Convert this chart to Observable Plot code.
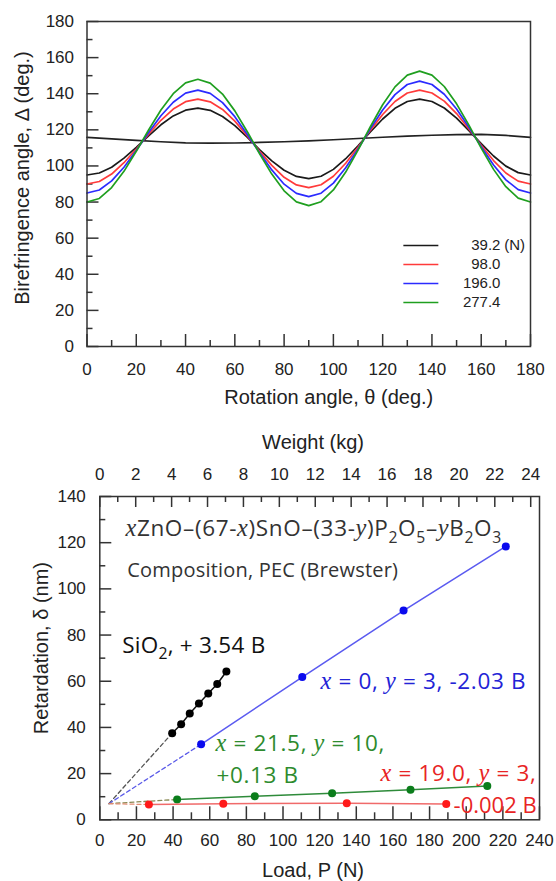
<!DOCTYPE html>
<html><head><meta charset="utf-8">
<script src="https://cdn.jsdelivr.net/npm/d3@7"></script>
<script src="https://cdn.jsdelivr.net/npm/@observablehq/plot@0.6"></script>
<style>
body{margin:0;background:#fff;}
#fig{width:556px;}
#fig svg{display:block;}
</style></head><body><div id="fig"></div>
<script>
// ---------- Top chart: birefringence angle vs rotation angle ----------
const theta = [0,5,10,15,20,25,30,35,40,45,50,55,60,65,70,75,80,85,90,95,100,105,110,115,120,125,130,135,140,145,150,155,160,165,170,175,180];
const load39 = [95,96.1,99.3,104.3,110.3,116.7,122.8,127.7,130.9,132,130.8,127.4,122.3,115.9,109.1,102.8,97.6,94.2,93,94.3,98.1,104,111.2,118.8,126,131.9,135.7,137,135.7,132.1,126.5,119.6,112.4,105.5,99.9,96.3,95];
const load98 = [90,91.4,95.5,101.8,109.4,117.6,125.3,131.5,135.6,137,135.5,131.3,124.8,116.8,108.2,100.3,93.7,89.5,88,89.6,94.3,101.5,110.3,119.7,128.5,135.7,140.4,142,140.4,135.9,129,120.5,111.5,103,96.1,91.6,90];
const load196 = [85,86.7,91.7,99.3,108.5,118.5,127.8,135.3,140.3,142,140.2,135.1,127.3,117.6,107.4,97.8,89.9,84.8,83,84.9,90.5,99,109.4,120.6,131,139.5,145.1,147,145.1,139.7,131.5,121.4,110.6,100.5,92.3,86.9,85];
const load277 = [80,82,88,97,108.1,119.9,131,140,146,148,145.9,139.8,130.5,119.1,106.9,95.5,86.2,80.1,78,80.2,86.7,96.6,108.8,121.7,133.9,143.8,150.3,152.5,150.3,144,134.4,122.6,109.9,98.1,88.5,82.2,80];
const thetaFlat = [0,10,20,30,40,50,60,70,80,90,100,110,120,130,140,150,160,170,180];
const flatRef = [115.8,115,114.2,113.4,112.8,112.6,112.7,113,113.4,113.9,114.5,115.2,115.9,116.5,117,117.4,117.5,116.9,115.8];
const loadLabels = ["39.2","98.0","196.0","277.4"];
const loadUnit = "(N)";
const thetaTicks = [0,20,40,60,80,100,120,140,160,180];
const deltaTicks = [0,20,40,60,80,100,120,140,160,180];

// ---------- Bottom chart: retardation vs load ----------
const sio2Load = [39.5,44.4,49.1,54.1,59.2,64.1,69.1];
const sio2Ret  = [37.5,41.4,46.0,50.4,54.7,58.8,64.2];
const x0Load   = [55.3,110.5,165.8,221.6];
const x0Ret    = [32.7,61.8,90.6,118.4];
const x215Load = [42.2,84.6,126.8,169.6,211.5];
const x215Ret  = [8.8,10.2,11.5,13.0,14.6];
const x19Load  = [26.8,67.4,134.8,189.1];
const x19Ret   = [6.6,7.0,7.2,6.8];
const extrapPoint = [5,7];
const loadTicks = [0,20,40,60,80,100,120,140,160,180,200,220,240];
const weightTicks = [0,2,4,6,8,10,12,14,16,18,20,22,24];
const retTicks = [0,20,40,60,80,100,120,140];
const G = 9.8; // N per kg

const FONT = "'Liberation Sans', Arial, sans-serif";
const ANN = "'Open Sans', Lato, sans-serif";
const AX = "#333";
const TICKFS = 17, TITLEFS = 20;

// ===== Top chart =====
const T = {w:556, h:410, ml:86.5, mr:26, mt:21, mb:64};
const TW = T.w - T.ml - T.mr, TH = T.h - T.mt - T.mb;
const topColors = ["#1a1a1a","#ff3a3a","#2b2bff","#1f9f1f"];
const topSeries = [load39, load98, load196, load277];
const minorOf = a => a.slice(0,-1).map((v,i)=> (v + a[i+1]) / 2);

const topMarks = [
  Plot.tickX(thetaTicks, {x: d=>d, insetTop: TH-12, stroke: AX, strokeWidth: 1.5}),
  Plot.tickX(minorOf(thetaTicks), {x: d=>d, insetTop: TH-6, stroke: AX, strokeWidth: 1.5}),
  Plot.tickY(deltaTicks, {y: d=>d, insetRight: TW-12, stroke: AX, strokeWidth: 1.5}),
  Plot.tickY(minorOf(deltaTicks), {y: d=>d, insetRight: TW-6, stroke: AX, strokeWidth: 1.5}),
  Plot.axisX({ticks: thetaTicks, tickSize: 0, tickPadding: 16, label: null, fontSize: TICKFS}),
  Plot.axisY({ticks: deltaTicks, tickSize: 0, tickPadding: 13, label: null, fontSize: TICKFS}),
  Plot.line(thetaFlat.map((t,i)=>({t, v: flatRef[i]})), {x:"t", y:"v", stroke:"#222", strokeWidth:1.7}),
];
topSeries.forEach((vals, k) => {
  topMarks.push(Plot.line(theta.map((t,i)=>({t, v: vals[i]})), {x:"t", y:"v", stroke: topColors[k], strokeWidth: 1.7}));
});
// legend
const legTop = 55.9, legStep = 10.5;
loadLabels.forEach((lab, k) => {
  const yy = legTop - k*legStep;
  topMarks.push(Plot.link([lab], {x1: 128.4, x2: 142.6, y1: yy, y2: yy, stroke: topColors[k], strokeWidth: 1.6}));
  topMarks.push(Plot.text([lab], {x: 167.8, y: yy, text: d=>d, textAnchor: "end", fontSize: 15, fill: "#222"}));
});
topMarks.push(Plot.text([loadUnit], {x: 169.3, y: legTop, text: d=>d, textAnchor: "start", fontSize: 15, fill: "#222"}));
topMarks.push(Plot.frame({stroke: AX, strokeWidth: 1.5}));
topMarks.push(Plot.text(["Rotation angle, θ (deg.)"], {frameAnchor: "bottom", dx: 20, dy: 51, lineAnchor: "middle", textAnchor: "middle", text: d=>d, fontSize: TITLEFS, fill: "#222"}));
topMarks.push(Plot.text(["Birefringence angle, Δ (deg.)"], {frameAnchor: "left", dx: -64.5, dy: -6, rotate: -90, lineAnchor: "middle", textAnchor: "middle", text: d=>d, fontSize: TITLEFS, fill: "#222"}));

const topSvg = Plot.plot({
  width: T.w, height: T.h,
  marginLeft: T.ml, marginRight: T.mr, marginTop: T.mt, marginBottom: T.mb,
  x: {domain: [0,180]}, y: {domain: [0,180]},
  style: {fontFamily: FONT, color: "#222", background: "#fff", overflow: "visible"},
  marks: topMarks
});

// ===== Bottom chart =====
const B = {w:556, h:471, ml:99.3, mr:17, mt:86, mb:61.7};
const BW = B.w - B.ml - B.mr, BH = B.h - B.mt - B.mb;
const pts = (xs, ys) => xs.map((x,i)=>({x, y: ys[i]}));
const ext = {x: extrapPoint[0], y: extrapPoint[1]};
const series = [
  {p: pts(sio2Load, sio2Ret), dot: "#000", line: "#111", dash: "#555"},
  {p: pts(x0Load, x0Ret), dot: "#0a0aee", line: "#5a5af0", dash: "#5a5ae8"},
  {p: pts(x215Load, x215Ret), dot: "#0b7d1b", line: "#2e8b3a", dash: "#8a8a55"},
  {p: pts(x19Load, x19Ret), dot: "#ff1a1a", line: "#f06a6a", dash: "#e08a70"},
];
const kgMinor = minorOf(weightTicks);
const botMarks = [
  Plot.tickX(loadTicks, {x: d=>d, insetTop: BH-13, stroke: AX, strokeWidth: 1.5}),
  Plot.tickX(minorOf(loadTicks), {x: d=>d, insetTop: BH-7, stroke: AX, strokeWidth: 1.5}),
  Plot.tickX(weightTicks, {x: d=>d*G, insetBottom: BH-11, stroke: AX, strokeWidth: 1.5}),
  Plot.tickX(kgMinor, {x: d=>d*G, insetBottom: BH-6, stroke: AX, strokeWidth: 1.5}),
  Plot.tickY(retTicks, {y: d=>d, insetRight: BW-12, stroke: AX, strokeWidth: 1.5}),
  Plot.tickY(minorOf(retTicks), {y: d=>d, insetRight: BW-6, stroke: AX, strokeWidth: 1.5}),
  Plot.axisX({anchor: "bottom", ticks: loadTicks, tickSize: 0, tickPadding: 14, label: null, fontSize: TICKFS}),
  Plot.axisX({anchor: "top", ticks: weightTicks.map(k=>k*G), tickFormat: d => String(Math.round(d/G)), tickSize: 0, tickPadding: 17, label: null, fontSize: TICKFS}),
  Plot.axisY({ticks: retTicks, tickSize: 0, tickPadding: 14, label: null, fontSize: TICKFS}),
];
series.forEach(s => {
  botMarks.push(Plot.line([ext, s.p[0]], {x:"x", y:"y", stroke: s.dash, strokeWidth: 1.3, strokeDasharray: "4,3"}));
  botMarks.push(Plot.line(s.p, {x:"x", y:"y", stroke: s.line, strokeWidth: 1.5}));
  botMarks.push(Plot.dot(s.p, {x:"x", y:"y", r: 4, fill: s.dot}));
});
botMarks.push(Plot.frame({stroke: AX, strokeWidth: 1.5}));
// annotations
botMarks.push(
  Plot.text(["xZnO–(67-x)SnO–(33-y)P2O5–yB2O3"], {x: 14, y: 125.9, text: d=>d, textAnchor: "start", fontSize: 22.5, fontFamily: ANN, fill: "#333"}),
  Plot.text(["Composition, PEC (Brewster)"], {x: 15, y: 108, text: d=>d, textAnchor: "start", fontSize: 20, fontFamily: ANN, fill: "#333"}),
  Plot.text(["SiO2, + 3.54 B"], {x: 12.2, y: 75.3, text: d=>d, textAnchor: "start", fontSize: 22.5, fontFamily: ANN, fill: "#111"}),
  Plot.text(["x = 0, y = 3, -2.03 B"], {x: 120.5, y: 59.6, text: d=>d, textAnchor: "start", fontSize: 22.5, fontFamily: ANN, fill: "#2323d6"}),
  Plot.text(["x = 21.5, y = 10,"], {x: 63.2, y: 32.8, text: d=>d, textAnchor: "start", fontSize: 22.5, fontFamily: ANN, fill: "#2e8b2e"}),
  Plot.text(["+0.13 B"], {x: 63.7, y: 19.2, text: d=>d, textAnchor: "start", fontSize: 22.5, fontFamily: ANN, fill: "#2e8b2e"}),
  Plot.text(["x = 19.0, y = 3,"], {x: 153.2, y: 19.8, text: d=>d, textAnchor: "start", fontSize: 22.5, fontFamily: ANN, fill: "#e82424"}),
  Plot.text(["-0.002 B"], {x: 193.1, y: 6.2, text: d=>d, textAnchor: "start", fontSize: 22, fontFamily: ANN, fill: "#e82424"}),
  Plot.text(["Weight (kg)"], {frameAnchor: "top", dx: -6.6, dy: -54, lineAnchor: "middle", textAnchor: "middle", text: d=>d, fontSize: TITLEFS, fill: "#222"}),
  Plot.text(["Load, P (N)"], {frameAnchor: "bottom", dx: -6.6, dy: 51, lineAnchor: "middle", textAnchor: "middle", text: d=>d, fontSize: TITLEFS, fill: "#222"}),
  Plot.text(["Retardation, δ (nm)"], {frameAnchor: "left", dx: -58.6, dy: -10, rotate: -90, lineAnchor: "middle", textAnchor: "middle", text: d=>d, fontSize: TITLEFS, fill: "#222"})
);

const botSvg = Plot.plot({
  width: B.w, height: B.h,
  marginLeft: B.ml, marginRight: B.mr, marginTop: B.mt, marginBottom: B.mb,
  x: {domain: [0,240]}, y: {domain: [0,140]},
  style: {fontFamily: FONT, color: "#222", background: "#fff", overflow: "visible"},
  marks: botMarks
});

const fig = document.getElementById("fig");
fig.appendChild(topSvg);
fig.appendChild(botSvg);

// letter spacing for the annotation font (the original face is wider)
const spacing = {
  "xZnO–(67-x)SnO–(33-y)P2O5–yB2O3": 0.65,
  "Composition, PEC (Brewster)": 0.2,
  "SiO2, + 3.54 B": 0.25,
  "x = 0, y = 3, -2.03 B": 0.65,
  "x = 21.5, y = 10,": 0.65,
  "+0.13 B": 0.65,
  "x = 19.0, y = 3,": 0.65,
  "-0.002 B": 0
};
// rich text: italic variables and subscripts
const rich = {
  "xZnO–(67-x)SnO–(33-y)P2O5–yB2O3": [["x","i"],["ZnO–(67-"],["x","i"],[")SnO–(33-"],["y","i"],[")P"],["2","s"],["O"],["5","s"],["–"],["y","i"],["B"],["2","s"],["O"],["3","s"]],
  "SiO2, + 3.54 B": [["SiO"],["2","s"],[", + 3.54 B"]],
  "x = 0, y = 3, -2.03 B": [["x","i"],[" = 0, "],["y","i"],[" = 3, -2.03 B"]],
  "x = 21.5, y = 10,": [["x","i"],[" = 21.5, "],["y","i"],[" = 10,"]],
  "x = 19.0, y = 3,": [["x","i"],[" = 19.0, "],["y","i"],[" = 3,"]]
};
d3.select(botSvg).selectAll("text").each(function() {
  const key = this.textContent;
  if (spacing[key] != null) d3.select(this).attr("letter-spacing", spacing[key]);
  const segs = rich[key];
  if (!segs) return;
  const fs = parseFloat(getComputedStyle(this).fontSize) || 20;
  const el = d3.select(this);
  el.text(null);
  let shifted = 0;
  segs.forEach(([t, kind]) => {
    const ts = el.append("tspan").text(t);
    if (kind === "s") {
      ts.attr("font-size", fs*0.7).attr("dy", fs*0.28 - shifted);
      shifted = fs*0.28;
    } else {
      if (shifted) { ts.attr("dy", -shifted); shifted = 0; }
      if (kind === "i") ts.attr("font-family", "'Liberation Serif', 'Times New Roman', serif").attr("font-style", "italic").attr("font-size", fs*1.08);
    }
  });
});
</script></body></html>
